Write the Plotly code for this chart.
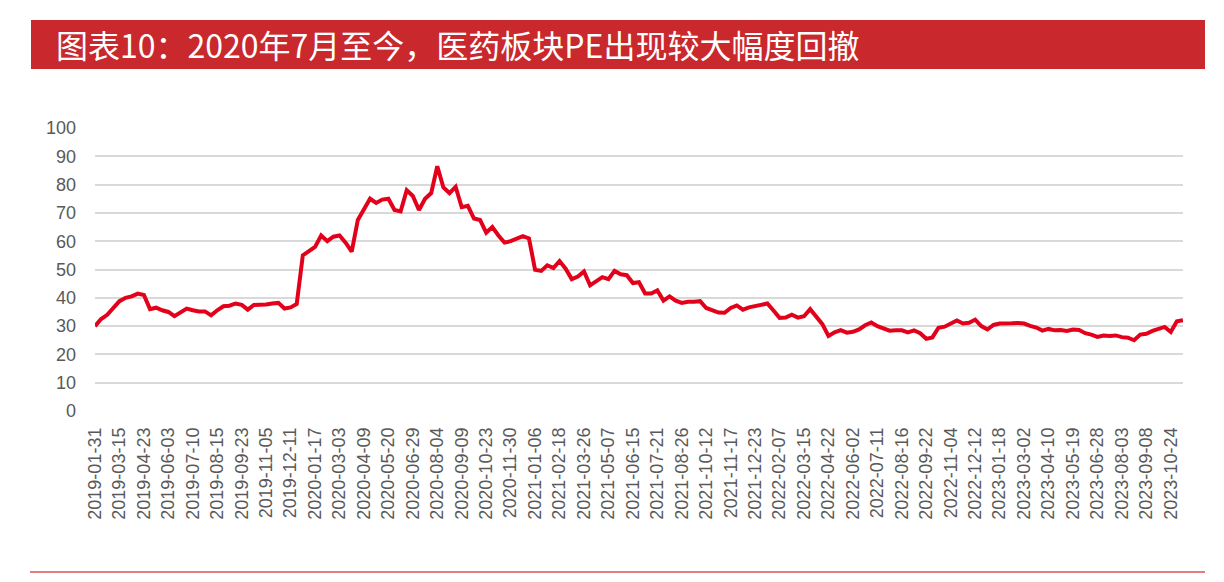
import plotly.graph_objects as go

tick_labels = [
    "2019-01-31", "2019-03-15", "2019-04-23", "2019-06-03", "2019-07-10", "2019-08-15",
    "2019-09-23", "2019-11-05", "2019-12-11", "2020-01-17", "2020-03-03", "2020-04-09",
    "2020-05-20", "2020-06-29", "2020-08-04", "2020-09-09", "2020-10-23", "2020-11-30",
    "2021-01-06", "2021-02-18", "2021-03-26", "2021-05-07", "2021-06-15", "2021-07-21",
    "2021-08-26", "2021-10-12", "2021-11-17", "2021-12-23", "2022-02-07", "2022-03-15",
    "2022-04-22", "2022-06-02", "2022-07-11", "2022-08-16", "2022-09-22", "2022-11-04",
    "2022-12-12", "2023-01-18", "2023-03-02", "2023-04-10", "2023-05-19", "2023-06-28",
    "2023-08-03", "2023-09-08", "2023-10-24",
]

pe_values = [
    30.0, 32.5, 34.0, 36.5, 38.8, 40.0, 40.5, 41.5,     # 2019-01-31 ..
    41.0, 36.0, 36.5, 35.6, 35.0, 33.5, 35.0, 36.2,
    35.6, 35.2, 35.2, 33.8, 35.6, 37.0, 37.2, 38.0,
    37.5, 35.8, 37.5, 37.4, 37.6, 38.0, 38.2, 36.2,
    36.6, 37.8, 55.0, 56.5, 58.0, 62.0, 60.0, 61.6,     # 2019-12-11 ..
    62.0, 59.5, 56.3, 67.5, 71.5, 75.0, 73.5, 74.7,
    75.0, 71.0, 70.5, 78.0, 76.0, 71.0, 75.0, 77.0,
    86.5, 79.0, 77.0, 79.2, 72.0, 72.5, 68.0, 67.5,     # 2020-08-04 ..
    63.0, 65.0, 62.0, 59.5, 60.0, 61.0, 61.8, 61.0,
    49.9, 49.5, 51.5, 50.5, 53.0, 50.3, 46.6, 47.5,     # 2021-01-06 ..
    49.3, 44.4, 45.8, 47.3, 46.6, 49.5, 48.3, 48.0,
    45.2, 45.5, 41.5, 41.5, 42.6, 39.0, 40.5, 39.0,
    38.2, 38.6, 38.6, 38.8, 36.4, 35.7, 34.8, 34.7,
    36.4, 37.3, 35.8, 36.6, 37.0, 37.3, 38.0, 35.5,
    32.9, 33.0, 34.0, 33.0, 33.5, 36.0, 33.5, 30.7,     # 2022-02-07 ..
    26.5, 27.8, 28.6, 27.7, 28.0, 28.8, 30.3, 31.3,
    30.0, 29.3, 28.4, 28.5, 28.5, 27.8, 28.5, 27.5,
    25.5, 26.0, 29.4, 29.8, 30.9, 32.0, 30.9, 31.2,
    32.3, 30.0, 28.8, 30.4, 30.9, 31.1, 31.0, 31.1,
    30.9, 30.1, 29.5, 28.4, 29.0, 28.5, 28.6, 28.3,
    28.8, 28.6, 27.5, 27.0, 26.2, 26.7, 26.5, 26.7,
    26.1, 25.9, 25.0, 27.0, 27.3, 28.3, 29.0, 29.7,
    27.9, 31.7, 32.1,
]

samples_per_tick = 4
x_pos = [i / samples_per_tick for i in range(len(pe_values))]
tick_pos = list(range(len(tick_labels)))

label_font = dict(family="Liberation Sans, Arial, sans-serif", size=18, color="#595959")

fig = go.Figure()
fig.add_trace(go.Scatter(
    x=x_pos, y=pe_values, mode="lines",
    line=dict(color="#E3001B", width=4),
    hoverinfo="skip", showlegend=False,
))

# plot area: x 95..1183, y 128..411 (px)
L, R, T, B = 95, 41, 128, 171
W, H = 1224, 582
pw, ph = W - L - R, H - T - B

def px(xp):
    return (xp - L) / pw

def py(yp):
    return (H - B - yp) / ph

fig.update_layout(
    width=W, height=H,
    margin=dict(l=L, r=R, t=T, b=B, pad=0),
    paper_bgcolor="white", plot_bgcolor="white",
    xaxis=dict(
        range=[0, (len(pe_values) - 1) / samples_per_tick],
        tickmode="array", tickvals=tick_pos, ticktext=tick_labels,
        tickangle=-90, tickfont=label_font,
        showgrid=False, zeroline=False, showline=False, ticks="",
        ticklabelstandoff=12,
    ),
    yaxis=dict(
        range=[0, 100], dtick=10, tickfont=label_font,
        showgrid=True, gridcolor="#D9D9D9", gridwidth=1.5,
        zeroline=False, showline=False, ticks="",
        ticklabelstandoff=18,
    ),
    shapes=[
        dict(type="rect", xref="paper", yref="paper",
             x0=px(31), x1=px(1205), y0=py(69), y1=py(20),
             fillcolor="#C9282D", line=dict(width=0), layer="above"),
        dict(type="line", xref="paper", yref="paper",
             x0=px(30), x1=px(1205), y0=py(572), y1=py(572),
             line=dict(color="#C00000", width=1.2)),
    ],
    annotations=[
        dict(text="图表10：2020年7月至今，医药板块PE出现较大幅度回撤",
             xref="paper", yref="paper", x=px(54), y=py(44),
             xanchor="left", yanchor="middle", showarrow=False,
             font=dict(family="Noto Sans CJK SC, sans-serif", size=32, color="white")),
    ],
)

fig.write_html("out.html")
